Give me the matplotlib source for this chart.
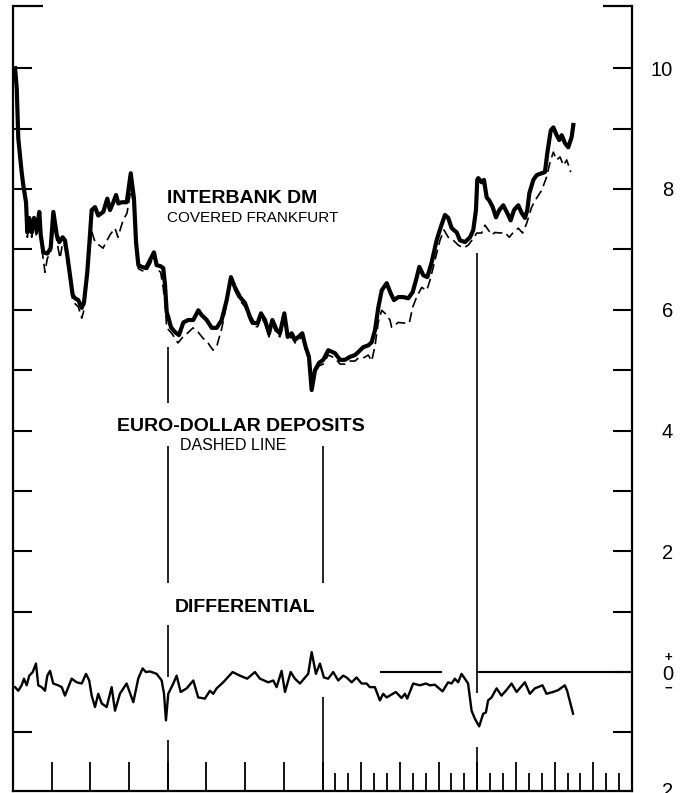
import matplotlib
matplotlib.use("Agg")
import matplotlib.pyplot as plt
import matplotlib.transforms as mtransforms

plt.rcParams['font.family'] = ['Liberation Sans', 'DejaVu Sans']

# ---- data (time in months from start of chart, values in percent) ----
dm_t = [0.16,0.29,0.41,0.67,0.80,1.01,1.11,1.26,1.45,1.63,
        1.84,2.04,2.15,2.35,2.66,2.92,3.13,3.39,3.59,3.85,
        4.03,4.21,4.42,4.63,4.81,5.06,5.33,5.51,5.76,5.97,
        6.10,6.36,6.61,7.00,7.31,7.52,7.78,7.99,8.17,8.43,
        8.82,9.13,9.38,9.54,9.72,9.98,10.31,10.62,10.93,11.14,
        11.45,11.65,11.79,11.92,12.04,12.25,12.56,12.87,13.21,13.59,
        13.98,14.37,14.63,15.02,15.41,15.80,16.18,16.57,16.90,17.21,
        17.60,17.99,18.38,18.63,18.97,19.23,19.54,19.85,20.11,20.45,
        20.70,21.04,21.30,21.61,21.87,22.12,22.43,22.70,22.95,23.16,
        23.42,23.73,24.06,24.45,24.97,25.36,25.74,26.13,26.52,26.78,
        27.16,27.55,27.81,28.07,28.33,28.59,28.98,29.29,29.54,29.88,
        30.27,30.65,30.99,31.25,31.51,31.82,32.13,32.47,32.85,33.17,
        33.50,33.75,34.02,34.41,34.66,35.05,35.44,35.69,35.90,36.00,
        36.08,36.34,36.52,36.73,36.93,37.20,37.45,37.71,38.02,38.33,
        38.59,38.85,39.18,39.45,39.70,39.88,40.04,40.35,40.61,41.00,
        41.25,41.43,41.70,41.90,42.16,42.36,42.55,42.80,43.06,43.32,
        43.45]
dm_v = [10.0,9.67,8.84,8.28,8.06,7.78,7.28,7.52,7.28,7.52,
        7.32,7.62,7.24,6.95,6.93,7.02,7.62,7.24,7.12,7.20,
        7.15,6.90,6.57,6.24,6.19,6.16,6.03,6.13,6.62,7.24,
        7.65,7.70,7.56,7.62,7.84,7.65,7.78,7.90,7.76,7.78,
        7.78,8.26,7.84,7.12,6.74,6.71,6.69,6.82,6.95,6.74,
        6.72,6.69,6.41,5.96,5.88,5.71,5.63,5.58,5.79,5.83,
        5.83,5.99,5.91,5.83,5.70,5.70,5.83,6.16,6.54,6.37,
        6.21,6.11,5.88,5.78,5.78,5.94,5.83,5.61,5.83,5.66,
        5.61,5.94,5.55,5.61,5.50,5.55,5.61,5.38,5.22,4.67,
        5.00,5.12,5.17,5.33,5.28,5.17,5.17,5.22,5.25,5.30,
        5.38,5.41,5.46,5.66,6.04,6.32,6.44,6.27,6.16,6.21,
        6.21,6.19,6.29,6.49,6.71,6.57,6.54,6.79,7.15,7.37,
        7.57,7.52,7.35,7.28,7.15,7.12,7.20,7.32,7.65,8.15,
        8.18,8.11,8.15,7.86,7.81,7.70,7.53,7.65,7.73,7.60,
        7.48,7.65,7.73,7.60,7.52,7.65,7.93,8.15,8.23,8.26,
        8.28,8.59,8.97,9.02,8.89,8.81,8.89,8.76,8.69,8.86,
        9.06]

ed_t = [0.16,0.29,0.41,0.67,0.80,1.01,1.11,1.26,1.45,1.63,
        1.84,2.04,2.15,2.48,2.66,2.92,3.13,3.39,3.64,3.85,
        4.03,4.21,4.42,4.63,4.81,5.06,5.33,5.51,5.76,5.97,
        6.10,6.36,6.98,7.52,7.91,8.14,8.53,8.84,9.15,9.38,
        9.54,9.72,9.98,10.31,10.62,10.93,11.14,11.45,11.65,11.79,
        11.92,12.31,12.79,13.18,13.57,13.96,14.35,14.73,15.12,15.51,
        15.82,16.21,16.57,16.90,17.21,17.60,17.99,18.38,18.63,18.97,
        19.23,19.54,19.85,20.11,20.45,20.70,21.04,21.30,21.61,21.87,
        22.12,22.43,22.70,22.95,23.16,23.42,23.73,24.06,24.45,24.97,
        25.36,25.74,26.13,26.52,26.78,27.16,27.55,27.81,28.07,28.33,
        28.59,28.85,29.23,29.36,29.88,30.27,30.73,30.99,31.30,31.69,
        32.08,32.34,32.72,33.11,33.42,33.75,34.14,34.53,34.92,35.30,
        35.69,35.96,36.34,36.60,36.86,37.12,37.38,37.76,38.15,38.48,
        38.79,39.18,39.52,39.83,40.22,40.61,41.00,41.38,41.64,41.90,
        42.16,42.42,42.68,42.94,43.25]
ed_v = [9.95,9.6,8.8,8.22,8.0,7.7,7.2,7.45,7.2,7.4,
        7.2,7.5,7.15,6.62,6.85,6.95,7.5,7.15,6.85,7.1,
        7.05,6.8,6.5,6.15,6.1,6.05,5.86,6.0,6.55,7.05,
        7.3,7.12,7.02,7.24,7.35,7.2,7.48,7.6,8.0,7.7,
        7.0,6.68,6.65,6.63,6.75,6.88,6.68,6.62,6.36,6.1,
        5.70,5.61,5.45,5.55,5.62,5.70,5.63,5.53,5.45,5.33,
        5.41,5.71,6.10,6.48,6.32,6.15,6.05,5.82,5.72,5.72,
        5.88,5.77,5.55,5.76,5.6,5.55,5.85,5.5,5.55,5.45,
        5.5,5.55,5.33,5.17,4.7,4.95,5.07,5.1,5.25,5.2,
        5.1,5.1,5.15,5.15,5.2,5.2,5.25,5.15,5.4,5.8,
        5.99,5.94,5.83,5.71,5.79,5.78,5.78,6.04,6.21,6.37,
        6.32,6.49,6.82,7.15,7.32,7.2,7.15,7.07,7.02,7.07,
        7.18,7.27,7.27,7.40,7.32,7.24,7.28,7.27,7.28,7.2,
        7.28,7.35,7.27,7.43,7.70,7.85,7.98,8.2,8.44,8.61,
        8.48,8.53,8.39,8.48,8.28]

diff_t = [0.16,0.41,0.67,0.85,1.06,1.26,1.53,1.78,1.96,2.22,
          2.48,2.66,2.87,3.12,3.51,3.78,4.03,4.29,4.55,4.94,
          5.33,5.66,5.91,6.10,6.36,6.61,6.88,7.26,7.65,7.91,
          8.29,8.81,9.33,9.71,10.05,10.31,10.62,11.14,11.53,11.71,
          11.86,12.04,12.43,12.69,13.00,13.47,13.98,14.36,14.88,15.27,
          15.53,15.79,16.30,17.03,17.60,18.16,18.76,19.15,19.79,20.18,
          20.44,20.83,21.09,21.53,21.86,22.25,22.77,22.89,23.16,23.49,
          23.80,24.11,24.44,24.83,25.22,25.60,25.87,26.26,26.64,27.03,
          27.42,27.67,28.06,28.45,28.71,28.97,29.22,29.69,30.13,30.39,
          30.57,31.03,31.55,32.02,32.33,32.71,33.31,33.74,34.01,34.26,
          34.52,34.78,35.04,35.29,35.56,35.81,36.15,36.46,36.67,36.84,
          37.11,37.50,37.88,38.22,38.66,39.05,39.69,40.08,40.47,41.06,
          41.37,41.88,42.27,42.79,42.97,43.43]
diff_v = [-0.25,-0.31,-0.22,-0.11,-0.22,-0.06,0.0,0.14,-0.22,-0.25,
          -0.31,-0.06,0.02,-0.19,-0.22,-0.25,-0.39,-0.25,-0.11,-0.17,
          -0.19,-0.03,-0.14,-0.39,-0.58,-0.36,-0.52,-0.58,-0.25,-0.64,
          -0.36,-0.19,-0.50,-0.11,0.06,0.0,0.01,-0.03,-0.14,-0.36,
          -0.80,-0.36,-0.19,-0.06,-0.33,-0.27,-0.14,-0.42,-0.44,-0.31,
          -0.36,-0.27,-0.17,0.0,-0.06,-0.11,0.0,-0.11,-0.17,-0.14,
          -0.25,0.02,-0.33,0.0,-0.11,-0.19,-0.06,-0.03,0.33,-0.03,
          0.14,-0.09,-0.11,0.0,-0.14,-0.06,-0.09,-0.17,-0.09,-0.19,
          -0.19,-0.25,-0.25,-0.47,-0.36,-0.42,-0.39,-0.33,-0.43,-0.36,
          -0.44,-0.19,-0.22,-0.19,-0.22,-0.21,-0.32,-0.17,-0.19,-0.11,
          -0.17,-0.03,-0.11,-0.19,-0.64,-0.77,-0.90,-0.69,-0.67,-0.47,
          -0.42,-0.27,-0.39,-0.31,-0.19,-0.33,-0.17,-0.36,-0.27,-0.22,
          -0.36,-0.33,-0.30,-0.22,-0.31,-0.69]

right_labels = ["10", "8", "6", "4", "2"]
right_label_vals = [10, 8, 6, 4, 2]
year_marks = [12, 24, 36]

# ---- figure ----
W, H = 688, 793
fig = plt.figure(figsize=(W / 100, H / 100), dpi=100)
fig.patch.set_facecolor('white')
ax = fig.add_axes([13 / W, 2 / H, 619 / W, 785 / H])
ax.set_xlim(0, 48)
ax.set_ylim(-1.97, 11.03)
ax.set_facecolor('white')

for s in ['left', 'right', 'bottom']:
    ax.spines[s].set_linewidth(1.6)
    ax.spines[s].set_color('black')
ax.spines['top'].set_visible(False)

# left ticks
ax.set_yticks([-1, 1, 2, 3, 4, 5, 6, 7, 8, 9, 10])
ax.tick_params(axis='y', direction='in', length=14, width=1.5, left=True,
               right=False, labelleft=False, labelright=False)
# right ticks
ax2 = ax.twinx()
ax2.set_ylim(ax.get_ylim())
for s in ax2.spines.values():
    s.set_visible(False)
ax2.set_yticks([-1, 0, 1, 2, 3, 4, 5, 6, 7, 8, 9, 10])
ax2.tick_params(axis='y', direction='in', length=14, width=1.5, left=False,
                right=True, labelleft=False, labelright=False)

# bottom ticks
ax.set_xticks([3, 6, 9, 12, 15, 18, 21, 24, 27, 30, 33, 36, 39, 42, 45])
ax.set_xticks(list(range(24, 48)), minor=True)
ax.tick_params(axis='x', which='major', direction='in', length=21, width=1.3,
               labelbottom=False)
ax.tick_params(axis='x', which='minor', direction='in', length=13, width=1.3)

# corner stubs at top
ax.plot([0, 30 / 619], [1, 1], transform=ax.transAxes, color='black', lw=1.6,
        clip_on=False, solid_capstyle='butt')
ax.plot([1 - 29 / 619, 1], [1, 1], transform=ax.transAxes, color='black', lw=1.6,
        clip_on=False, solid_capstyle='butt')

# year divider lines (broken around labels and curves)
seg_lw = 1.2
def vsegs(x, lows, highs):
    ax.vlines([x] * len(lows), lows, highs, color='black', lw=seg_lw)

vsegs(year_marks[0], [4.45, 1.47, -0.08, -1.97], [5.38, 3.74, 0.78, -1.13])
vsegs(year_marks[1], [1.47, -1.97], [3.74, -0.41])
vsegs(year_marks[2], [-0.35, -1.97], [6.94, -1.24])

# zero reference line
ax.hlines([0, 0], [28.45, 36.0], [33.3, 48], color='black', lw=1.5)

# series
ax.plot(ed_t, ed_v, color='black', lw=1.2, dashes=(6, 3), zorder=3)
ax.plot(dm_t, dm_v, color='black', lw=3.0, zorder=4, solid_joinstyle='round')
ax.plot(diff_t, diff_v, color='black', lw=1.7, zorder=4, solid_joinstyle='round')

# labels inside chart
ax.text(11.92, 7.765, "INTERBANK DM", fontsize=14, fontweight='bold', ha='left', va='baseline')
ax.text(11.92, 7.455, "COVERED FRANKFURT", fontsize=11, ha='left', va='baseline')
ax.text(8.04, 4.0, "EURO-DOLLAR DEPOSITS", fontsize=14, fontweight='bold', ha='left', va='baseline')
ax.text(12.95, 3.675, "DASHED LINE", fontsize=11.5, ha='left', va='baseline')
ax.text(12.56, 0.993, "DIFFERENTIAL", fontsize=14, fontweight='bold', ha='left', va='baseline')

# right-hand scale labels
tr = mtransforms.blended_transform_factory(ax.transAxes, ax.transData)
xl = (673 - 13) / 619
for lab, v in zip(right_labels, right_label_vals):
    ax.text(xl, v, lab, transform=tr, fontsize=14.5, ha='right', va='center_baseline',
            clip_on=False)
ax.text(xl, 0, "0", transform=tr, fontsize=14.5, ha='right', va='center_baseline', clip_on=False)
ax.text((668 - 13) / 619, 0.26, "+", transform=tr, fontsize=9.5, fontweight='bold',
        ha='center', va='center_baseline', clip_on=False)
ax.text((668 - 13) / 619, -0.25, "\u2212", transform=tr, fontsize=9.5, fontweight='bold',
        ha='center', va='center_baseline', clip_on=False)
ax.text(xl, -1.94, "2", transform=tr, fontsize=14.5, ha='right', va='center_baseline',
        clip_on=False)

fig.savefig("out.png", dpi=100, facecolor='white')
